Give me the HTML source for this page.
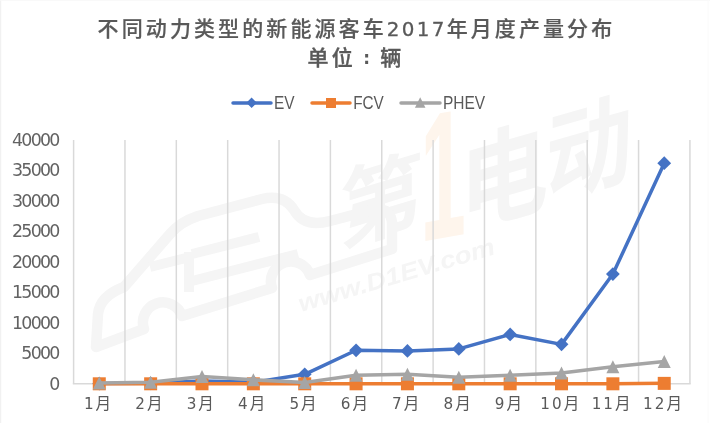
<!DOCTYPE html>
<html><head><meta charset="utf-8"><style>
html,body{margin:0;padding:0;background:#fff;}
body{width:710px;height:423px;overflow:hidden;position:relative;}
svg{position:absolute;left:0;top:0;display:block;}
.cjk{font-family:"Liberation Sans","Noto Sans CJK SC",sans-serif;}
.dv{font-family:"DejaVu Sans",sans-serif;}
.lib{font-family:"Liberation Sans",sans-serif;}
</style></head><body>
<svg width="710" height="423" viewBox="0 0 710 423">
<rect x="0" y="0" width="710" height="423" fill="#ffffff"/>
<rect x="0" y="0" width="1.2" height="423" fill="#f1f1f1"/>
<rect x="0" y="0" width="710" height="0.8" fill="#f8f8f8"/>
<rect x="707.6" y="0" width="1" height="423" fill="#fafafa"/>
<g class="cjk" font-weight="bold">
<text x="0" y="0" text-anchor="middle" dominant-baseline="central" font-size="88" fill="#f5f5f5" transform="translate(381 202) skewY(-17) scale(0.95 1)">第</text>
<text x="0" y="0" text-anchor="middle" dominant-baseline="central" font-size="182" fill="#fef5ec" transform="translate(443 175) skewY(-10) scale(0.45 1)">1</text>
<text x="0" y="0" text-anchor="middle" dominant-baseline="central" font-size="104" fill="#f5f5f5" transform="translate(504 178) skewY(-16) scale(0.85 1)">电</text>
<text x="0" y="0" text-anchor="middle" dominant-baseline="central" font-size="102" fill="#f5f5f5" transform="translate(589 150) skewY(-16) scale(0.85 1)">动</text>
<path d="M96 347 L98 314 Q100 296 124 287 L170 234 Q180 222 198 216 L262 199 Q284 194 294 210 Q304 228 330 221 L372 210 Q390 206 392 222 L392 249 L310 275 A19 19 0 0 0 272 288 L182 316 A19 19 0 0 0 144 329 L96 347 Z" fill="none" stroke="#f5f5f5" stroke-width="10.5" stroke-linejoin="round"/>
<path d="M189 252 L189 292 M192 254 L259 237 M192 281 L298 254 M150 267 L186 258" fill="none" stroke="#f5f5f5" stroke-width="10" stroke-linecap="butt"/>
<text x="0" y="0" font-size="24" font-style="italic" font-weight="bold" fill="#f5f5f5" textLength="204" lengthAdjust="spacingAndGlyphs" transform="translate(301 312) rotate(-16.6)">www.D1EV.com</text>
</g>
<g class="cjk" fill="#595959" font-weight="500" font-size="21">
<text x="97.6" y="36.4" letter-spacing="3.1" stroke="#595959" stroke-width="0.2">不同动力类型的新能源客车<tspan class="dv" font-weight="normal" font-size="19.9" letter-spacing="2.3" stroke="#595959" stroke-width="0.3">2017</tspan>年月度产量分布</text>
<text x="307.6" y="65.2" letter-spacing="3.1" stroke="#595959" stroke-width="0.4">单位</text>
<text x="363.2" y="63.8" class="dv" font-weight="bold" font-size="17">:</text>
<text x="380.2" y="64.6" stroke="#595959" stroke-width="0.4">辆</text>
</g>
<g>
<line x1="73.60" y1="140.0" x2="73.60" y2="383.8" stroke="#d9d9d9" stroke-width="1.5"/>
<line x1="124.96" y1="140.0" x2="124.96" y2="383.8" stroke="#d9d9d9" stroke-width="1.5"/>
<line x1="176.32" y1="140.0" x2="176.32" y2="383.8" stroke="#d9d9d9" stroke-width="1.5"/>
<line x1="227.68" y1="140.0" x2="227.68" y2="383.8" stroke="#d9d9d9" stroke-width="1.5"/>
<line x1="279.04" y1="140.0" x2="279.04" y2="383.8" stroke="#d9d9d9" stroke-width="1.5"/>
<line x1="330.40" y1="140.0" x2="330.40" y2="383.8" stroke="#d9d9d9" stroke-width="1.5"/>
<line x1="381.76" y1="140.0" x2="381.76" y2="383.8" stroke="#d9d9d9" stroke-width="1.5"/>
<line x1="433.12" y1="140.0" x2="433.12" y2="383.8" stroke="#d9d9d9" stroke-width="1.5"/>
<line x1="484.48" y1="140.0" x2="484.48" y2="383.8" stroke="#d9d9d9" stroke-width="1.5"/>
<line x1="535.84" y1="140.0" x2="535.84" y2="383.8" stroke="#d9d9d9" stroke-width="1.5"/>
<line x1="587.20" y1="140.0" x2="587.20" y2="383.8" stroke="#d9d9d9" stroke-width="1.5"/>
<line x1="638.56" y1="140.0" x2="638.56" y2="383.8" stroke="#d9d9d9" stroke-width="1.5"/>
<line x1="689.92" y1="140.0" x2="689.92" y2="383.8" stroke="#d9d9d9" stroke-width="1.5"/>
<line x1="72.85" y1="383.8" x2="690.67" y2="383.8" stroke="#d9d9d9" stroke-width="1.5"/>
<polyline points="99.28,383.62 150.64,383.31 202.00,381.06 253.36,382.28 304.72,374.35 356.08,350.28 407.44,350.89 458.80,348.88 510.16,334.43 561.52,344.37 612.88,274.09 664.24,163.16" fill="none" stroke="#4472c4" stroke-width="3.5" stroke-linejoin="round" stroke-linecap="round"/>
<path d="M99.28 376.72L106.18 383.62L99.28 390.52L92.38 383.62Z" fill="#4472c4"/>
<path d="M150.64 376.41L157.54 383.31L150.64 390.21L143.74 383.31Z" fill="#4472c4"/>
<path d="M202.00 374.16L208.90 381.06L202.00 387.96L195.10 381.06Z" fill="#4472c4"/>
<path d="M253.36 375.38L260.26 382.28L253.36 389.18L246.46 382.28Z" fill="#4472c4"/>
<path d="M304.72 367.45L311.62 374.35L304.72 381.25L297.82 374.35Z" fill="#4472c4"/>
<path d="M356.08 343.38L362.98 350.28L356.08 357.18L349.18 350.28Z" fill="#4472c4"/>
<path d="M407.44 343.99L414.34 350.89L407.44 357.79L400.54 350.89Z" fill="#4472c4"/>
<path d="M458.80 341.98L465.70 348.88L458.80 355.78L451.90 348.88Z" fill="#4472c4"/>
<path d="M510.16 327.53L517.06 334.43L510.16 341.33L503.26 334.43Z" fill="#4472c4"/>
<path d="M561.52 337.47L568.42 344.37L561.52 351.27L554.62 344.37Z" fill="#4472c4"/>
<path d="M612.88 267.19L619.78 274.09L612.88 280.99L605.98 274.09Z" fill="#4472c4"/>
<path d="M664.24 156.26L671.14 163.16L664.24 170.06L657.34 163.16Z" fill="#4472c4"/>
<polyline points="99.28,383.80 150.64,383.80 202.00,383.80 253.36,383.80 304.72,383.80 356.08,383.80 407.44,383.80 458.80,383.80 510.16,383.80 561.52,383.80 612.88,383.80 664.24,383.37" fill="none" stroke="#ed7d31" stroke-width="3.5" stroke-linejoin="round" stroke-linecap="round"/>
<rect x="92.78" y="377.30" width="13.00" height="13.00" fill="#ed7d31"/>
<rect x="144.14" y="377.30" width="13.00" height="13.00" fill="#ed7d31"/>
<rect x="195.50" y="377.30" width="13.00" height="13.00" fill="#ed7d31"/>
<rect x="246.86" y="377.30" width="13.00" height="13.00" fill="#ed7d31"/>
<rect x="298.22" y="377.30" width="13.00" height="13.00" fill="#ed7d31"/>
<rect x="349.58" y="377.30" width="13.00" height="13.00" fill="#ed7d31"/>
<rect x="400.94" y="377.30" width="13.00" height="13.00" fill="#ed7d31"/>
<rect x="452.30" y="377.30" width="13.00" height="13.00" fill="#ed7d31"/>
<rect x="503.66" y="377.30" width="13.00" height="13.00" fill="#ed7d31"/>
<rect x="555.02" y="377.30" width="13.00" height="13.00" fill="#ed7d31"/>
<rect x="606.38" y="377.30" width="13.00" height="13.00" fill="#ed7d31"/>
<rect x="657.74" y="376.87" width="13.00" height="13.00" fill="#ed7d31"/>
<polyline points="99.28,382.89 150.64,382.28 202.00,376.49 253.36,379.84 304.72,382.58 356.08,375.27 407.44,374.29 458.80,377.28 510.16,375.27 561.52,373.07 612.88,366.68 664.24,361.47" fill="none" stroke="#a5a5a5" stroke-width="3.5" stroke-linejoin="round" stroke-linecap="round"/>
<path d="M99.28 376.39L105.78 389.39L92.78 389.39Z" fill="#a5a5a5"/>
<path d="M150.64 375.78L157.14 388.78L144.14 388.78Z" fill="#a5a5a5"/>
<path d="M202.00 369.99L208.50 382.99L195.50 382.99Z" fill="#a5a5a5"/>
<path d="M253.36 373.34L259.86 386.34L246.86 386.34Z" fill="#a5a5a5"/>
<path d="M304.72 376.08L311.22 389.08L298.22 389.08Z" fill="#a5a5a5"/>
<path d="M356.08 368.77L362.58 381.77L349.58 381.77Z" fill="#a5a5a5"/>
<path d="M407.44 367.79L413.94 380.79L400.94 380.79Z" fill="#a5a5a5"/>
<path d="M458.80 370.78L465.30 383.78L452.30 383.78Z" fill="#a5a5a5"/>
<path d="M510.16 368.77L516.66 381.77L503.66 381.77Z" fill="#a5a5a5"/>
<path d="M561.52 366.57L568.02 379.57L555.02 379.57Z" fill="#a5a5a5"/>
<path d="M612.88 360.18L619.38 373.18L606.38 373.18Z" fill="#a5a5a5"/>
<path d="M664.24 354.97L670.74 367.97L657.74 367.97Z" fill="#a5a5a5"/>
</g>
<g fill="#626262" class="dv" font-size="17.4">
<text x="58.6" y="389.70" text-anchor="end" letter-spacing="-1.75">0</text>
<text x="58.6" y="359.22" text-anchor="end" letter-spacing="-1.75">5000</text>
<text x="58.6" y="328.75" text-anchor="end" letter-spacing="-1.75">10000</text>
<text x="58.6" y="298.27" text-anchor="end" letter-spacing="-1.75">15000</text>
<text x="58.6" y="267.80" text-anchor="end" letter-spacing="-1.75">20000</text>
<text x="58.6" y="237.33" text-anchor="end" letter-spacing="-1.75">25000</text>
<text x="58.6" y="206.85" text-anchor="end" letter-spacing="-1.75">30000</text>
<text x="58.6" y="176.38" text-anchor="end" letter-spacing="-1.75">35000</text>
<text x="58.6" y="145.90" text-anchor="end" letter-spacing="-1.75">40000</text>
</g>
<g fill="#595959" font-size="15.2">
<text x="98.58" y="408.6" text-anchor="middle" letter-spacing="2.0"><tspan class="dv">1</tspan><tspan class="cjk" font-size="15.6" dy="0.3">月</tspan></text>
<text x="149.94" y="408.6" text-anchor="middle" letter-spacing="2.0"><tspan class="dv">2</tspan><tspan class="cjk" font-size="15.6" dy="0.3">月</tspan></text>
<text x="201.30" y="408.6" text-anchor="middle" letter-spacing="2.0"><tspan class="dv">3</tspan><tspan class="cjk" font-size="15.6" dy="0.3">月</tspan></text>
<text x="252.66" y="408.6" text-anchor="middle" letter-spacing="2.0"><tspan class="dv">4</tspan><tspan class="cjk" font-size="15.6" dy="0.3">月</tspan></text>
<text x="304.02" y="408.6" text-anchor="middle" letter-spacing="2.0"><tspan class="dv">5</tspan><tspan class="cjk" font-size="15.6" dy="0.3">月</tspan></text>
<text x="355.38" y="408.6" text-anchor="middle" letter-spacing="2.0"><tspan class="dv">6</tspan><tspan class="cjk" font-size="15.6" dy="0.3">月</tspan></text>
<text x="406.74" y="408.6" text-anchor="middle" letter-spacing="2.0"><tspan class="dv">7</tspan><tspan class="cjk" font-size="15.6" dy="0.3">月</tspan></text>
<text x="458.10" y="408.6" text-anchor="middle" letter-spacing="2.0"><tspan class="dv">8</tspan><tspan class="cjk" font-size="15.6" dy="0.3">月</tspan></text>
<text x="509.46" y="408.6" text-anchor="middle" letter-spacing="2.0"><tspan class="dv">9</tspan><tspan class="cjk" font-size="15.6" dy="0.3">月</tspan></text>
<text x="560.82" y="408.6" text-anchor="middle" letter-spacing="2.0"><tspan class="dv">10</tspan><tspan class="cjk" font-size="15.6" dy="0.3">月</tspan></text>
<text x="612.18" y="408.6" text-anchor="middle" letter-spacing="2.0"><tspan class="dv">11</tspan><tspan class="cjk" font-size="15.6" dy="0.3">月</tspan></text>
<text x="663.54" y="408.6" text-anchor="middle" letter-spacing="2.0"><tspan class="dv">12</tspan><tspan class="cjk" font-size="15.6" dy="0.3">月</tspan></text>
</g>
<g class="cjk" fill="#595959" font-size="18">
<line x1="233" y1="103" x2="271" y2="103" stroke="#4472c4" stroke-width="3.5" stroke-linecap="round"/>
<path d="M251.60 97.55L256.85 102.80L251.60 108.05L246.35 102.80Z" fill="#4472c4"/>
<text x="274.0" y="108.6" textLength="20.6" lengthAdjust="spacingAndGlyphs">EV</text>
<line x1="312" y1="103" x2="350" y2="103" stroke="#ed7d31" stroke-width="3.5" stroke-linecap="round"/>
<rect x="326.00" y="98.00" width="10.00" height="10.00" fill="#ed7d31"/>
<text x="353.2" y="108.6" textLength="30.6" lengthAdjust="spacingAndGlyphs">FCV</text>
<line x1="401" y1="103" x2="440" y2="103" stroke="#a5a5a5" stroke-width="3.5" stroke-linecap="round"/>
<path d="M420.20 97.15L425.45 107.65L414.95 107.65Z" fill="#a5a5a5"/>
<text x="443.0" y="108.6" textLength="42.2" lengthAdjust="spacingAndGlyphs">PHEV</text>
</g>
</svg>
</body></html>
